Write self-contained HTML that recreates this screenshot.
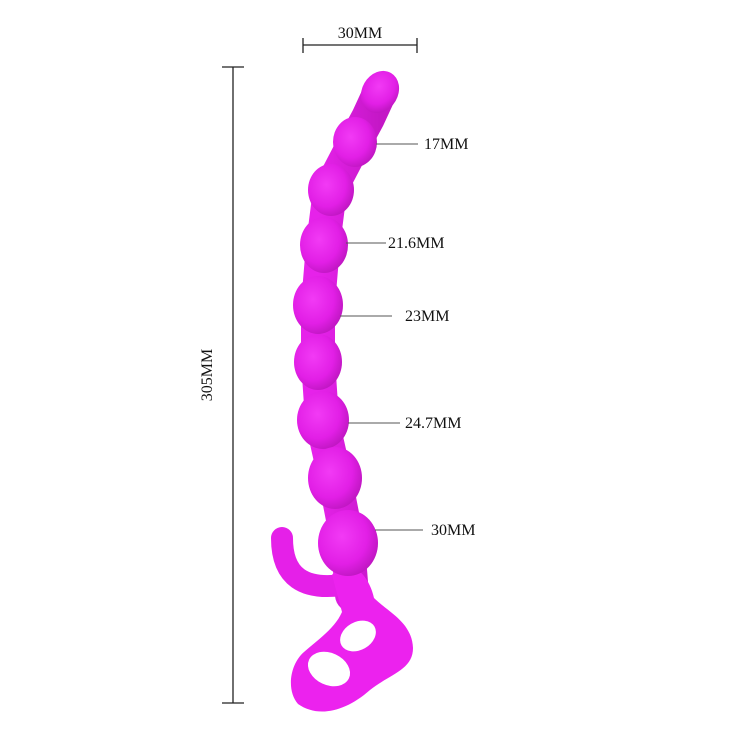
<!DOCTYPE html>
<html><head><meta charset="utf-8"><style>
html,body{margin:0;padding:0;background:#fff;width:730px;height:730px;overflow:hidden}
text{font-family:"Liberation Serif",serif;font-size:16px;fill:#111}
</style></head><body>
<svg width="730" height="730" viewBox="0 0 730 730">
<defs>
<radialGradient id="g" cx="0.4" cy="0.4" r="0.7">
<stop offset="0" stop-color="#f23af5"/><stop offset="0.6" stop-color="#e21fe6"/><stop offset="1" stop-color="#b614b8"/>
</radialGradient>
<linearGradient id="gb" x1="0" y1="0" x2="1" y2="0">
<stop offset="0" stop-color="#e622ea"/><stop offset="1" stop-color="#c417c6"/>
</linearGradient>
</defs>
<g>
<polyline points="380,92 368,118 355,142 330,190 323,245 318,305 318,360 322,420 335,478 348,545 352,595" fill="none" stroke="url(#gb)" stroke-width="34" stroke-linecap="round" stroke-linejoin="round"/>
<path d="M282,538 C282,578 305,590 342,585" fill="none" stroke="#e520e8" stroke-width="22" stroke-linecap="round"/>
<path d="M332,575 C345,555 368,570 374,598 C388,612 412,622 413,648 C413,670 390,674 370,690 C345,712 318,718 298,704 C286,690 290,664 304,652 C320,638 335,628 342,612 Z" fill="#ec22ee"/>
<ellipse cx="358" cy="636" rx="19" ry="14" transform="rotate(-30 358 636)" fill="#fff"/>
<ellipse cx="329" cy="669" rx="22" ry="16" transform="rotate(25 329 669)" fill="#fff"/>
<ellipse cx="380" cy="92" rx="18" ry="22" transform="rotate(30 380 92)" fill="url(#g)"/>
<ellipse cx="355" cy="142" rx="22" ry="25" fill="url(#g)"/>
<ellipse cx="331" cy="190" rx="23" ry="26" fill="url(#g)"/>
<ellipse cx="324" cy="245" rx="24" ry="28" fill="url(#g)"/>
<ellipse cx="318" cy="305" rx="25" ry="29" fill="url(#g)"/>
<ellipse cx="318" cy="362" rx="24" ry="28" fill="url(#g)"/>
<ellipse cx="323" cy="420" rx="26" ry="29" fill="url(#g)"/>
<ellipse cx="335" cy="478" rx="27" ry="31" fill="url(#g)"/>
<ellipse cx="348" cy="543" rx="30" ry="33" fill="url(#g)"/>
</g>
<g stroke="#222" stroke-width="1.3">
<line x1="233" y1="67" x2="233" y2="703"/><line x1="222" y1="67" x2="244" y2="67"/><line x1="222" y1="703" x2="244" y2="703"/>
</g>
<text x="212" y="375" transform="rotate(-90 212 375)" text-anchor="middle">305MM</text>
<g stroke="#222" stroke-width="1.3">
<line x1="303" y1="45" x2="417" y2="45"/><line x1="303" y1="38" x2="303" y2="53"/><line x1="417" y1="38" x2="417" y2="53"/>
</g>
<text x="360" y="38" text-anchor="middle">30MM</text>
<g stroke="#555" stroke-width="1">
<line x1="376" y1="144" x2="418" y2="144"/>
<line x1="346" y1="243" x2="386" y2="243"/>
<line x1="340" y1="316" x2="392" y2="316"/>
<line x1="348" y1="423" x2="400" y2="423"/>
<line x1="375" y1="530" x2="423" y2="530"/>
</g>
<text x="424" y="149">17MM</text>
<text x="388" y="248">21.6MM</text>
<text x="405" y="321">23MM</text>
<text x="405" y="428">24.7MM</text>
<text x="431" y="535">30MM</text>
</svg>
</body></html>
